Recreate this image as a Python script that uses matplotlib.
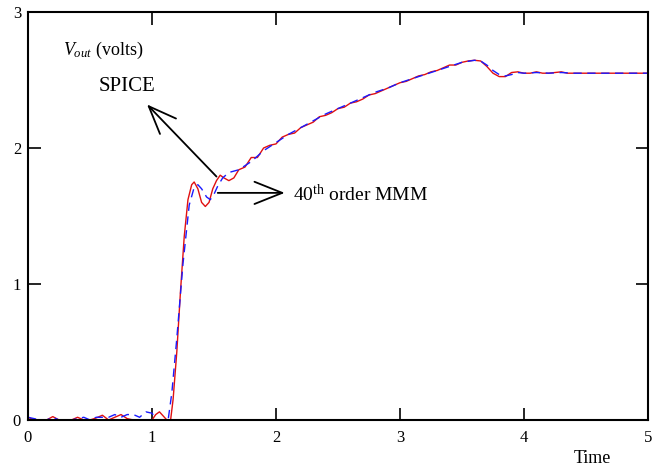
import matplotlib.pyplot as plt
import numpy as np

plt.rcParams['font.family'] = ['Liberation Serif', 'DejaVu Serif']
plt.rcParams['mathtext.fontset'] = 'custom'
plt.rcParams['mathtext.rm'] = 'Liberation Serif'
plt.rcParams['mathtext.it'] = 'Liberation Serif:italic'

# SPICE response (red, solid)
t_spice = [0.0, 0.05, 0.1, 0.15, 0.2, 0.25, 0.3, 0.35, 0.4, 0.45, 0.5, 0.55,
           0.6, 0.65, 0.7, 0.75, 0.8, 0.85, 0.9, 0.95, 1.0, 1.03, 1.06, 1.09,
           1.12, 1.15, 1.17, 1.2, 1.23, 1.26, 1.29, 1.32, 1.34, 1.37, 1.4,
           1.43, 1.46, 1.49, 1.52, 1.55, 1.58, 1.62, 1.66, 1.7, 1.75, 1.8,
           1.85, 1.9, 1.95, 2.0, 2.05, 2.1, 2.15, 2.2, 2.25, 2.3, 2.35, 2.4,
           2.45, 2.5, 2.55, 2.6, 2.65, 2.7, 2.75, 2.8, 2.85, 2.9, 2.95, 3.0,
           3.05, 3.1, 3.15, 3.2, 3.25, 3.3, 3.35, 3.4, 3.45, 3.5, 3.55, 3.6,
           3.65, 3.7, 3.75, 3.8, 3.85, 3.9, 3.95, 4.0, 4.05, 4.1, 4.15, 4.2,
           4.25, 4.3, 4.35, 5.0]
v_spice = [0.02, 0.0, 0.0, 0.0, 0.025, 0.0, 0.0, 0.0, 0.02, 0.0, 0.0, 0.015,
           0.035, 0.0, 0.02, 0.04, 0.01, 0.0, 0.0, 0.0, 0.0, 0.04, 0.06, 0.03,
           0.0, 0.0, 0.15, 0.5, 0.95, 1.35, 1.62, 1.73, 1.75, 1.7, 1.6,
           1.57, 1.6, 1.7, 1.76, 1.8, 1.78, 1.76, 1.78, 1.84, 1.86, 1.93,
           1.93, 2.0, 2.02, 2.03, 2.08, 2.1, 2.11, 2.15, 2.17, 2.19, 2.23, 2.24,
           2.26, 2.29, 2.3, 2.33, 2.34, 2.36, 2.39, 2.4, 2.42, 2.44, 2.46, 2.48,
           2.49, 2.51, 2.53, 2.54, 2.56, 2.57, 2.59, 2.61, 2.61, 2.63, 2.64, 2.645,
           2.64, 2.6, 2.55, 2.525, 2.525, 2.555, 2.56, 2.55, 2.55, 2.56, 2.55, 2.55,
           2.555, 2.56, 2.55, 2.55]

# 40th order MMM response (blue, dashed)
t_mmm = [0.0, 0.05, 0.1, 0.15, 0.2, 0.25, 0.3, 0.35, 0.4, 0.45, 0.5, 0.55,
         0.6, 0.65, 0.7, 0.75, 0.8, 0.85, 0.9, 0.95, 1.0, 1.04, 1.08, 1.13,
         1.16, 1.2, 1.25, 1.3, 1.34, 1.37, 1.4, 1.44, 1.47, 1.5, 1.53, 1.57,
         1.62, 1.66, 1.7, 1.75, 1.8, 1.85, 1.9, 1.95, 2.0, 2.1, 2.2, 2.3, 2.4,
         2.5, 2.6, 2.7, 2.8, 2.9, 3.0, 3.1, 3.2, 3.3, 3.4, 3.5, 3.6, 3.65,
         3.7, 3.75, 3.8, 3.85, 3.9, 3.95, 4.0, 4.1, 4.2, 4.3, 4.4, 5.0]
v_mmm = [0.02, 0.01, 0.0, 0.0, 0.02, 0.0, 0.0, 0.0, 0.01, 0.02, 0.0, 0.02,
         0.02, 0.02, 0.04, 0.02, 0.04, 0.04, 0.02, 0.06, 0.05, 0.0, 0.0, 0.0,
         0.2, 0.6, 1.15, 1.58, 1.71, 1.73, 1.7, 1.64, 1.62, 1.66, 1.72, 1.78,
         1.82, 1.83, 1.84, 1.87, 1.9, 1.94, 1.98, 2.01, 2.04, 2.1, 2.15, 2.2, 2.25,
         2.29, 2.33, 2.37, 2.41, 2.44, 2.48, 2.51, 2.54, 2.57, 2.6, 2.63, 2.645, 2.64,
         2.61, 2.57, 2.54, 2.53, 2.54, 2.555, 2.55, 2.555, 2.55, 2.555, 2.55, 2.55]

fig = plt.figure(figsize=(6.52, 4.68), dpi=100)
ax = fig.add_axes([28 / 652, 48 / 468, 620 / 652, 408 / 468])

ax.plot(t_spice, v_spice, color='#e01010', lw=1.0)
ax.plot(t_mmm, v_mmm, color='#1a1aff', lw=1.0, dashes=(6, 4))

ax.set_xlim(0, 5)
ax.set_ylim(0, 3)
ax.set_xticks([0, 1, 2, 3, 4, 5])
ax.set_yticks([0, 1, 2, 3])
ax.tick_params(direction='in', top=True, right=True, length=9, width=1.2,
               labelsize=12)
ax.tick_params(axis='x', pad=7)
ax.tick_params(axis='y', pad=5)
for s in ax.spines.values():
    s.set_linewidth(1.5)

ax.text(0.91, -0.095, 'Time', transform=ax.transAxes, fontsize=13,
        ha='center', va='center')

ax.text(0.28, 2.72, r'$V_{out}$ (volts)', fontsize=13, ha='left', va='center')
ax.text(0.8, 2.45, 'SPICE', fontsize=15, ha='center', va='center')
ax.text(2.14, 1.66, r'40$^{\rm th}$ order MMM', fontsize=14, ha='left',
        va='center')

ax.annotate('', xy=(0.96, 2.32), xytext=(1.52, 1.79),
            arrowprops=dict(arrowstyle='->,head_length=1.0,head_width=0.4',
                            lw=1.3, color='black', shrinkA=0, shrinkB=0,
                            mutation_scale=20))
ax.annotate('', xy=(2.07, 1.67), xytext=(1.53, 1.67),
            arrowprops=dict(arrowstyle='->,head_length=1.0,head_width=0.4',
                            lw=1.3, color='black', shrinkA=0, shrinkB=0,
                            mutation_scale=20))

fig.savefig('out.png', dpi=100)
